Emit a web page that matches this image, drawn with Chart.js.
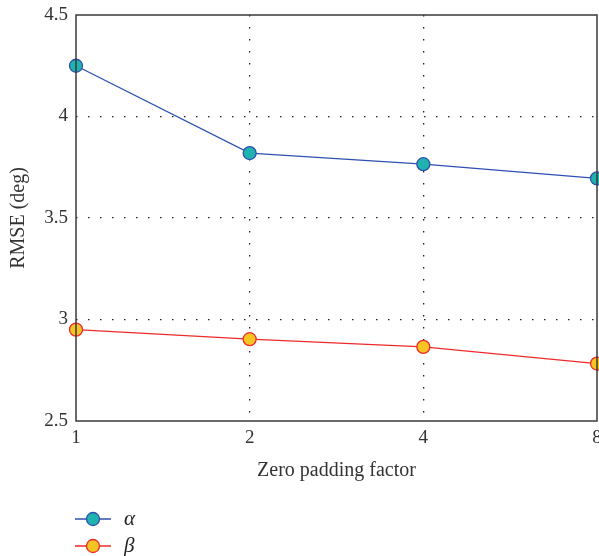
<!DOCTYPE html>
<html>
<head>
<meta charset="utf-8">
<script src="https://cdn.jsdelivr.net/npm/chart.js@4/dist/chart.umd.min.js"></script>
<style>
html,body{margin:0;padding:0;background:#fff;}
#wrap{width:599px;height:556px;position:relative;}
</style>
</head>
<body>
<div id="wrap"><canvas id="c"></canvas></div>
<script>
const categories = ['1', '2', '4', '8'];
const alphaValues = [4.25, 3.82, 3.765, 3.695];
const betaValues = [2.95, 2.903, 2.865, 2.783];
const yTicks = [2.5, 3, 3.5, 4, 4.5];
const seriesLabels = ['α', 'β'];

const FONT = '"Liberation Serif", "DejaVu Serif", serif';
const FRAME = '#3a3a3a';

const framePlugin = {
  id: 'frame',
  afterDatasetsDraw(chart) {
    const a = chart.chartArea, ctx = chart.ctx;
    ctx.save();
    ctx.strokeStyle = FRAME;
    ctx.lineWidth = 1.5;
    ctx.strokeRect(a.left, a.top, a.right - a.left, a.bottom - a.top);
    ctx.restore();
  },
  afterDraw(chart) {
    const ctx = chart.ctx;
    const x0 = 75, x1 = 111, tx = 124;
    const ys = [519, 546];
    chart.data.datasets.forEach((ds, i) => {
      const y = ys[i];
      ctx.save();
      ctx.strokeStyle = ds.borderColor;
      ctx.lineWidth = 1.3;
      ctx.beginPath(); ctx.moveTo(x0, y); ctx.lineTo(x1, y); ctx.stroke();
      ctx.beginPath(); ctx.arc((x0 + x1) / 2, y, 6.5, 0, Math.PI * 2);
      ctx.fillStyle = ds.pointBackgroundColor; ctx.fill();
      ctx.strokeStyle = ds.pointBorderColor; ctx.lineWidth = 1.3; ctx.stroke();
      ctx.fillStyle = '#222';
      ctx.font = 'italic 21px ' + FONT;
      ctx.textBaseline = 'middle';
      ctx.fillText(ds.label, tx, y);
      ctx.restore();
    });
  }
};

new Chart(document.getElementById('c'), {
  type: 'line',
  data: {
    labels: categories,
    datasets: [
      {
        label: seriesLabels[0], data: alphaValues,
        borderColor: '#2f4fb0', borderWidth: 1.3,
        pointBackgroundColor: '#1fb3ad', pointBorderColor: '#2f4fb0',
        pointBorderWidth: 1.3, pointRadius: 6.5, tension: 0, clip: false
      },
      {
        label: seriesLabels[1], data: betaValues,
        borderColor: '#ee2a2a', borderWidth: 1.3,
        pointBackgroundColor: '#f6c423', pointBorderColor: '#ee2a2a',
        pointBorderWidth: 1.3, pointRadius: 6.5, tension: 0, clip: false
      }
    ]
  },
  options: {
    responsive: true, maintainAspectRatio: false, animation: false,
    layout: { autoPadding: false, padding: { left: 0, right: 2, top: 15, bottom: 78 } },
    plugins: { legend: { display: false }, tooltip: { enabled: false } },
    scales: {
      x: {
        type: 'category', offset: false,
        grid: {
          drawTicks: false,
          color: ctx => (ctx.index === 0 || ctx.index === categories.length - 1) ? 'rgba(0,0,0,0)' : '#222',
          lineWidth: 1.3
        },
        border: { display: false, dash: [1.5, 10.5] },
        ticks: { color: '#333', font: { family: FONT, size: 19 }, padding: 6, maxRotation: 0, autoSkip: false },
        title: { display: true, text: 'Zero padding factor', color: '#333', font: { family: FONT, size: 20 }, padding: { top: 18, bottom: -5 } },
        afterFit: s => { s.height = 57; s.paddingLeft = 0; s.paddingRight = 0; }
      },
      y: {
        min: 2.5, max: 4.5,
        border: { display: false, dash: [1.5, 10.5] },
        grid: {
          drawTicks: false,
          color: ctx => (ctx.tick && (ctx.tick.value === 2.5 || ctx.tick.value === 4.5)) ? 'rgba(0,0,0,0)' : '#222',
          lineWidth: 1.3
        },
        afterBuildTicks: s => { s.ticks = yTicks.map(v => ({ value: v })); },
        ticks: { color: '#333', font: { family: FONT, size: 19 }, padding: 8, callback: v => String(v) },
        title: { display: true, text: 'RMSE (deg)', color: '#333', font: { family: FONT, size: 20 }, padding: { top: 7, bottom: 6 } },
        afterFit: s => { s.width = 76; s.paddingTop = 0; s.paddingBottom = 0; }
      }
    }
  },
  plugins: [framePlugin]
});
</script>
</body>
</html>
